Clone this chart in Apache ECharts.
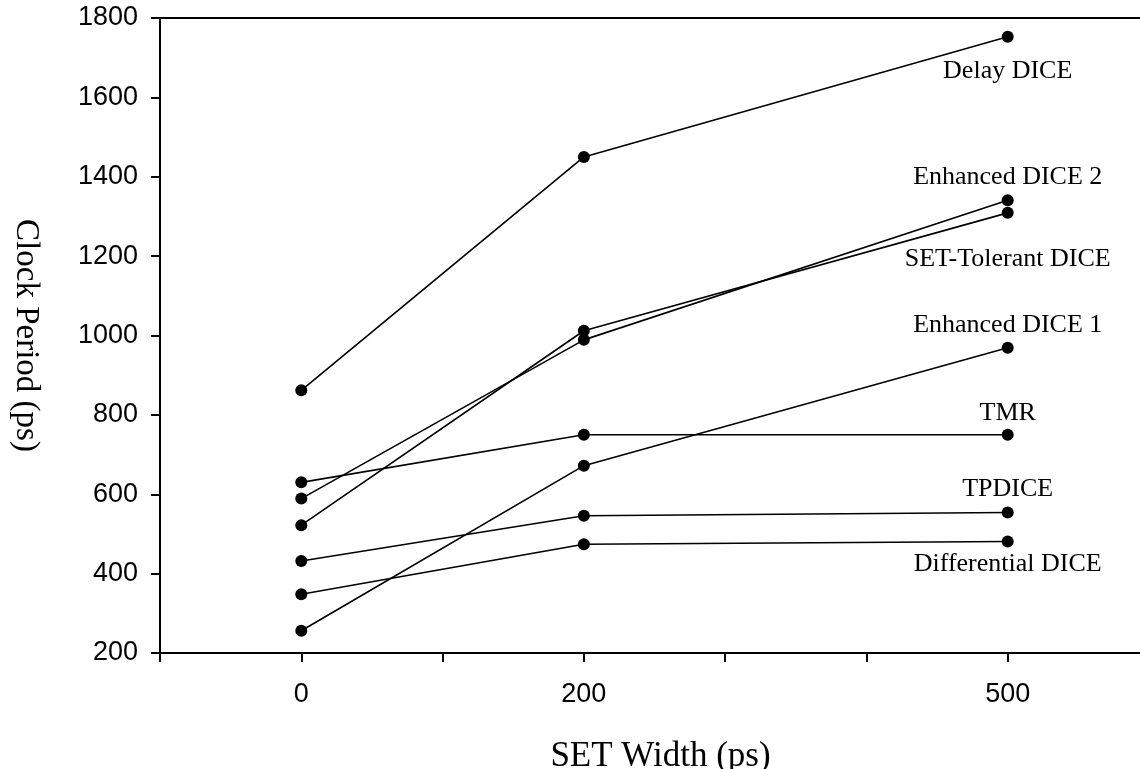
<!DOCTYPE html>
<html>
<head>
<meta charset="utf-8">
<script src="https://cdn.jsdelivr.net/npm/echarts@6/dist/echarts.min.js"></script>
<style>
html,body{margin:0;padding:0;background:#fff;overflow:hidden;}
#chart{width:1140px;height:769px;}
</style>
</head>
<body>
<div id="chart"></div>
<script>
// SET width (ps)
const xValues = [0, 200, 500];
const xTickLabels = ['0', '200', '500'];
const yTickLabels = ['200', '400', '600', '800', '1000', '1200', '1400', '1600', '1800'];

const seriesNames = ['Delay DICE', 'Enhanced DICE 2', 'SET-Tolerant DICE', 'Enhanced DICE 1', 'TMR', 'TPDICE', 'Differential DICE'];
const delayDice = [862, 1450, 1753];
const enhancedDice2 = [589, 989, 1341];
const setTolerantDice = [522, 1012, 1309];
const enhancedDice1 = [256, 672, 969];
const tmr = [630, 750, 750];
const tpdice = [432, 546, 554];
const differentialDice = [348, 474, 481];

const seriesValues = [delayDice, enhancedDice2, setTolerantDice, enhancedDice1, tmr, tpdice, differentialDice];
// vertical offset of each end label relative to the last point (px)
const labelOffsets = [35, -23, 46, -23, -22, -23, 23];

const chart = echarts.init(document.getElementById('chart'));

const series = seriesNames.map((name, i) => ({
  name: name,
  type: 'line',
  symbol: 'circle',
  symbolSize: 12,
  itemStyle: { color: '#000' },
  lineStyle: { color: '#000', width: 1.6 },
  animation: false,
  data: seriesValues[i].map((v, j) => {
    const item = { value: [xValues[j], v] };
    if (j === xValues.length - 1) {
      item.label = {
        show: true,
        position: 'inside',
        offset: [0, labelOffsets[i]],
        formatter: name,
        color: '#000',
        fontFamily: 'Liberation Serif',
        fontSize: 26
      };
    }
    return item;
  })
}));

chart.setOption({
  backgroundColor: '#fff',
  animation: false,
  grid: { left: 160, top: 18, width: 989, height: 635, containLabel: false, outerBoundsMode: 'none' },
  xAxis: [{
    type: 'value',
    min: -100, max: 600, interval: 100,
    name: 'SET Width (ps)',
    nameLocation: 'middle',
    nameGap: 86,
    nameTextStyle: { fontFamily: 'Liberation Serif', fontSize: 35, color: '#000', padding: [0, 0, 0, 12] },
    axisLine: { show: true, onZero: false, lineStyle: { color: '#000', width: 2 } },
    axisTick: { show: true, length: 9, lineStyle: { color: '#000', width: 2 } },
    axisLabel: {
      margin: 28,
      fontFamily: 'Liberation Sans', fontSize: 27, color: '#000',
      showMinLabel: true, showMaxLabel: true,
      formatter: v => xTickLabels.indexOf(String(v)) >= 0 ? String(v) : ''
    },
    splitLine: { show: false }
  }, {
    type: 'value',
    position: 'top',
    min: -100, max: 600,
    axisLine: { show: true, onZero: false, lineStyle: { color: '#000', width: 2 } },
    axisTick: { show: false },
    axisLabel: { show: false },
    splitLine: { show: false }
  }],
  yAxis: {
    type: 'value',
    min: 200, max: 1800, interval: 200,
    name: 'Clock Period (ps)',
    nameLocation: 'middle',
    nameRotate: -90,
    nameGap: 118,
    nameTextStyle: { fontFamily: 'Liberation Serif', fontSize: 33, color: '#000' },
    axisLine: { show: true, onZero: false, lineStyle: { color: '#000', width: 2 } },
    axisTick: { show: true, length: 9, lineStyle: { color: '#000', width: 2 } },
    axisLabel: {
      margin: 22,
      fontFamily: 'Liberation Sans', fontSize: 27, color: '#000',
      formatter: v => yTickLabels.indexOf(String(v)) >= 0 ? String(v) : ''
    },
    splitLine: { show: false }
  },
  series: series
});
</script>
</body>
</html>
